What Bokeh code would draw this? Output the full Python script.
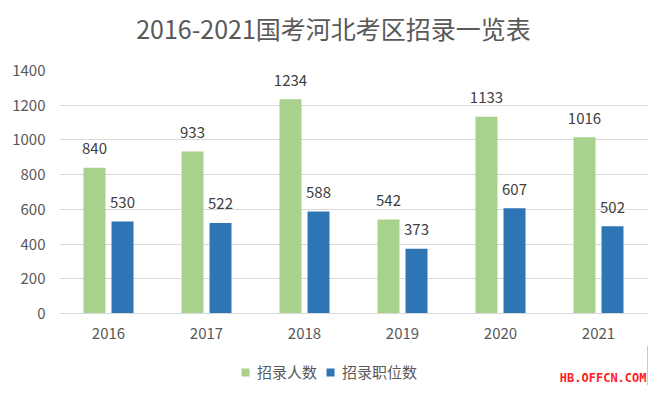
from bokeh.plotting import figure
from bokeh.layouts import column
from bokeh.models import ColumnDataSource, LabelSet, Legend, LegendItem, Label, FactorRange
from bokeh.transform import dodge
from bokeh.core.properties import value
from bokeh.embed import file_html
from bokeh.resources import INLINE

years = ["2016", "2017", "2018", "2019", "2020", "2021"]
recruits = [840, 933, 1234, 542, 1133, 1016]
positions = [530, 522, 588, 373, 607, 502]
series_names = ["招录人数", "招录职位数"]
title_text = "2016-2021国考河北考区招录一览表"
watermark = "HB.OFFCN.COM"
y_ticks = [0, 200, 400, 600, 800, 1000, 1200, 1400]

GREEN = "#A9D18E"
BLUE = "#2E75B6"
TXT = "#595959"
FONT = "Noto Sans CJK SC"
W = 650
LEFT = 59      # left border of every figure (column aligns the frames)
RIGHT = 3


def strip(h):
    f = figure(x_range=(0, 1), y_range=(0, 1), width=W, height=h, output_backend="svg",
               toolbar_location=None, min_border_left=LEFT, min_border_right=RIGHT,
               min_border_top=0, min_border_bottom=0,
               x_axis_location=None, y_axis_location=None)
    f.grid.grid_line_color = None
    f.outline_line_color = None
    return f


# title strip
t = strip(50)
t.add_layout(Label(x=333 - LEFT, y=23, x_units="screen", y_units="screen", text=title_text,
                   text_font=FONT, text_font_size="25px", text_color=TXT,
                   text_align="center", text_baseline="middle"))

src = ColumnDataSource(dict(year=years, recruits=recruits, positions=positions,
                            rl=[str(v) for v in recruits], pl=[str(v) for v in positions]))

p = figure(x_range=FactorRange(*years), y_range=(0, 1400), width=W, height=295,
           output_backend="svg", toolbar_location=None,
           min_border_left=LEFT, min_border_right=RIGHT, min_border_top=20, min_border_bottom=32)

r1 = p.vbar(x=dodge("year", -0.143, range=p.x_range), top="recruits", width=0.224,
            source=src, color=GREEN, line_color=None)
r2 = p.vbar(x=dodge("year", 0.143, range=p.x_range), top="positions", width=0.224,
            source=src, color=BLUE, line_color=None)

for col, off in (("rl", -0.143), ("pl", 0.143)):
    top = "recruits" if col == "rl" else "positions"
    p.add_layout(LabelSet(x=dodge("year", off, range=p.x_range), y=top, text=col, source=src,
                          text_align="center", text_baseline="middle", y_offset=19,
                          text_font=value(FONT), text_font_size="15px", text_color="#404040"))

p.yaxis.ticker = y_ticks
p.yaxis.axis_line_color = None
p.yaxis.major_tick_line_color = None
p.yaxis.minor_tick_line_color = None
p.yaxis.major_label_standoff = 8
p.yaxis.major_label_text_font = FONT
p.yaxis.major_label_text_font_size = "15px"
p.yaxis.major_label_text_color = TXT

p.xaxis.axis_line_color = "#D9D9D9"
p.xaxis.major_tick_line_color = None
p.xaxis.minor_tick_line_color = None
p.xaxis.major_label_standoff = 8
p.xaxis.major_label_text_font = FONT
p.xaxis.major_label_text_font_size = "15px"
p.xaxis.major_label_text_color = TXT

p.xgrid.grid_line_color = None
p.ygrid.grid_line_color = "#D9D9D9"
p.ygrid.grid_line_width = 1
p.outline_line_color = None
p.background_fill_color = "white"

# legend strip below the chart (swatch renderers sit outside the visible range)
q = strip(40)
g1 = q.vbar(x=[5], top=[5], width=0.1, color=GREEN, line_color=None)
g2 = q.vbar(x=[5], top=[5], width=0.1, color=BLUE, line_color=None)

legend = Legend(items=[LegendItem(label=series_names[0], renderers=[g1]),
                       LegendItem(label=series_names[1], renderers=[g2])],
                orientation="horizontal", location=(240 - LEFT, 3), padding=0, margin=0,
                spacing=8, glyph_width=10, glyph_height=10, label_standoff=7,
                label_text_font=FONT, label_text_font_size="15px", label_text_color=TXT,
                border_line_color=None, background_fill_alpha=0)
q.add_layout(legend, "center")

q.add_layout(Label(x=W - LEFT - RIGHT - 1, y=1, x_units="screen", y_units="screen",
                   text=watermark, text_font="DejaVu Sans Mono", text_font_style="bold",
                   text_align="right", text_font_size="12px", text_color="#FF2020",
                   text_baseline="bottom"))

open("out.html", "w").write(file_html(column(t, p, q, spacing=0), INLINE))
